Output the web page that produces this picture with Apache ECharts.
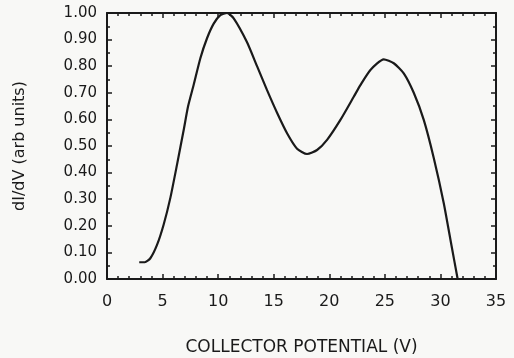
<!DOCTYPE html>
<html>
<head>
<meta charset="utf-8">
<script src="https://cdn.jsdelivr.net/npm/echarts@6/dist/echarts.min.js"></script>
<style>
  html, body { margin: 0; padding: 0; background: #f8f8f6; }
  #chart { width: 514px; height: 358px; }
</style>
</head>
<body>
<div id="chart"></div>
<script>
// values
const voltage = [2.9, 3.4, 3.9, 4.5, 5.1, 5.7, 6.3, 6.9, 7.3, 7.8, 8.4, 9.0, 9.6, 10.2, 10.8, 11.4, 12.6, 13.5, 14.4, 15.3, 16.2, 17.1, 18.0, 18.9, 19.8, 21.0, 22.2, 22.8, 23.7, 24.9, 25.8, 26.7, 27.6, 28.5, 29.4, 30.3, 31.0, 31.55]
const didv = [0.063, 0.063, 0.078, 0.128, 0.205, 0.305, 0.43, 0.56, 0.65, 0.73, 0.83, 0.905, 0.96, 0.992, 1.0, 0.98, 0.89, 0.8, 0.71, 0.625, 0.548, 0.49, 0.47, 0.485, 0.523, 0.598, 0.685, 0.729, 0.786, 0.826, 0.811, 0.773, 0.7, 0.598, 0.455, 0.285, 0.125, 0.0]
const xTicks = [0, 5, 10, 15, 20, 25, 30, 35]
const yTicks = [0, 0.1, 0.2, 0.3, 0.4, 0.5, 0.6, 0.7, 0.8, 0.9, 1.0]

const ink = '#1a1a1a'
const font = 'DejaVu Sans, Arial, sans-serif'

const chart = echarts.init(document.getElementById('chart'))

const xBase = {
  type: 'value',
  min: xTicks[0],
  max: xTicks[xTicks.length - 1],
  interval: 5,
  axisLine: { show: true, onZero: false, lineStyle: { color: ink, width: 2 } },
  axisTick: { show: true, inside: true, length: 5, lineStyle: { color: ink, width: 1.5 } },
  minorTick: { show: true, splitNumber: 5, length: 3, lineStyle: { color: ink, width: 1.5 } },
  splitLine: { show: false }
}
const yBase = {
  type: 'value',
  min: yTicks[0],
  max: yTicks[yTicks.length - 1],
  interval: 0.1,
  axisLine: { show: true, onZero: false, lineStyle: { color: ink, width: 2 } },
  axisTick: { show: true, inside: true, length: 5, lineStyle: { color: ink, width: 1.5 } },
  minorTick: { show: true, splitNumber: 2, length: 3, lineStyle: { color: ink, width: 1.5 } },
  splitLine: { show: false }
}

chart.setOption({
  backgroundColor: '#f8f8f6',
  animation: false,
  grid: { left: 107, right: 18, top: 13, bottom: 79, containLabel: false, outerBoundsMode: 'none' },
  xAxis: [
    {
      ...xBase,
      position: 'bottom',
      name: 'COLLECTOR POTENTIAL (V)',
      nameLocation: 'middle',
      nameGap: 60,
      nameTextStyle: { color: ink, fontSize: 17, fontFamily: font },
      axisLabel: { color: ink, fontSize: 16, fontFamily: font, margin: 15 }
    },
    { ...xBase, position: 'top', axisLabel: { show: false } }
  ],
  yAxis: [
    {
      ...yBase,
      position: 'left',
      name: 'dI/dV (arb units)',
      nameLocation: 'middle',
      nameGap: 79,
      nameTextStyle: { color: ink, fontSize: 16, fontFamily: font },
      axisLabel: {
        color: ink, fontSize: 15, fontFamily: font, margin: 10,
        formatter: v => v.toFixed(2)
      }
    },
    { ...yBase, position: 'right', axisLabel: { show: false } }
  ],
  series: [{
    type: 'line',
    data: voltage.map((v, i) => [v, didv[i]]),
    smooth: 0.2,
    symbol: 'none',
    lineStyle: { color: ink, width: 2.2 }
  }]
})
</script>
</body>
</html>
